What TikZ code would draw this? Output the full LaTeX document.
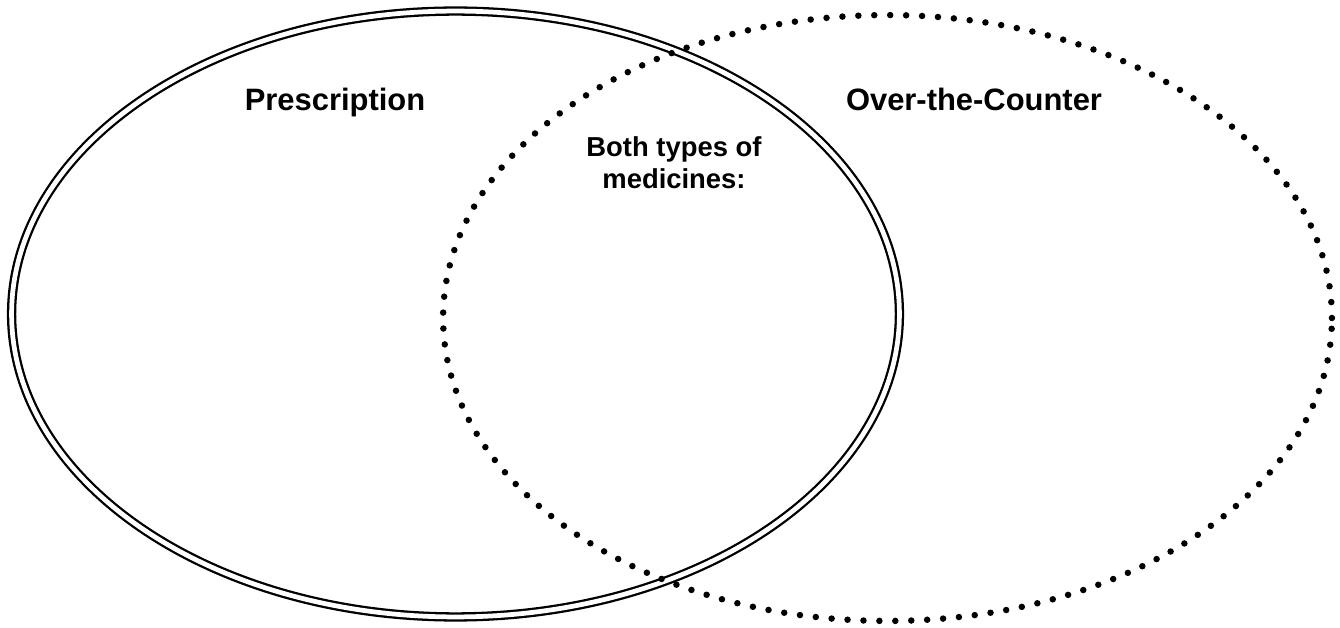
\documentclass[tikz,border=0pt]{standalone}
\usepackage{fontspec}
\setmainfont{Liberation Sans}
\usepackage{tikz}

\tikzset{
	title/.style={font=\bfseries\fontsize{17.6pt}{20pt}\selectfont, anchor=base, inner sep=0pt},
	inner label/.style={font=\bfseries\fontsize{15.6pt}{18.7pt}\selectfont, align=center, anchor=base, inner sep=0pt}
}

\begin{document}
\begin{tikzpicture}[x=0.02cm, y=-0.02cm]
		%%%%% START %%%%%
		
		\useasboundingbox (0, 0) rectangle (1340, 628);
		
		% prescription set
		\draw[line width=1.3pt, double, double distance=2.7pt] (455.5, 314) ellipse [x radius=8.88cm, y radius=6.06cm];
		
		% over-the-counter set
		\draw[line width=3.7pt, line cap=round, dash pattern=on 0pt off 9.07pt] (887.5, 318) ellipse [x radius=8.89cm, y radius=6.06cm];
		
		\node[title] (rx) at (335, 111) {Prescription};
		\node[title] (otc) at (974, 111) {Over-the-Counter};
		\node[inner label] (both) at (674, 189) {Both types of\\medicines:};
		
		%%%%% END %%%%%
	\end{tikzpicture}
\end{document}
